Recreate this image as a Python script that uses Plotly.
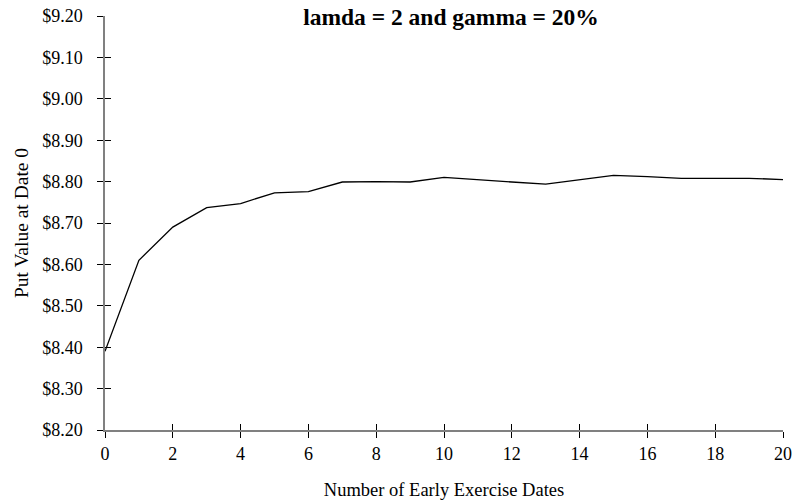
import plotly.graph_objects as go

exercise_dates = list(range(0, 21))
put_values = [8.39, 8.61, 8.69, 8.737, 8.747, 8.773, 8.776, 8.799, 8.800, 8.799,
              8.810, 8.804, 8.799, 8.794, 8.804, 8.815, 8.812, 8.808, 8.808, 8.808, 8.805]

y_tick_vals = [8.2, 8.3, 8.4, 8.5, 8.6, 8.7, 8.8, 8.9, 9.0, 9.1, 9.2]
y_tick_text = ["$8.20", "$8.30", "$8.40", "$8.50", "$8.60", "$8.70", "$8.80",
               "$8.90", "$9.00", "$9.10", "$9.20"]
x_tick_vals = list(range(0, 21, 2))

title_text = "<b>lamda = 2 and gamma = 20%</b>"
x_title = "Number of Early Exercise Dates"
y_title = "Put Value at Date 0"

FONT = "Liberation Serif, Times New Roman, serif"

W, H = 794, 501

fig = go.Figure()
fig.add_trace(go.Scatter(x=exercise_dates, y=put_values, mode="lines",
                         line=dict(color="black", width=1.3), showlegend=False,
                         cliponaxis=False))
fig.add_trace(go.Scatter(x=exercise_dates, y=put_values, mode="lines",
                         line=dict(color="rgba(0,0,0,0)", width=0), xaxis="x2", yaxis="y2",
                         showlegend=False, hoverinfo="skip"))

common_axis = dict(showgrid=False, zeroline=False, showline=True, linecolor="#808080",
                   linewidth=1.5, tickcolor="black", ticklen=6, tickwidth=1, automargin=False)

fig.update_layout(
    width=W, height=H,
    paper_bgcolor="white", plot_bgcolor="white",
    margin=dict(l=105, r=11, t=16, b=71),
    font=dict(family=FONT, size=18, color="black"),
    title=dict(text=title_text, x=451 / W, xref="container", y=1 - 17 / H,
               yref="container", xanchor="center", yanchor="middle",
               font=dict(family=FONT, size=23.5, color="black")),
    xaxis=dict(range=[0, 20], tickvals=x_tick_vals, ticks="outside", ticklabelstandoff=1,
               ticklabeloverflow="allow",
               title=dict(text=x_title, font=dict(size=18.5), standoff=20),
               tickfont=dict(size=18), **common_axis),
    yaxis=dict(range=[8.2, 9.2], tickvals=y_tick_vals, ticktext=y_tick_text,
               ticks="outside", ticklabelstandoff=11, ticklabeloverflow="allow",
               title=dict(text=y_title, font=dict(size=19.5), standoff=8),
               tickfont=dict(size=18), **common_axis),
    xaxis2=dict(range=[0, 20], tickvals=x_tick_vals, ticks="inside", overlaying="x",
                showticklabels=False, **common_axis),
    yaxis2=dict(range=[8.2, 9.2], tickvals=y_tick_vals, ticks="inside", overlaying="y",
                showticklabels=False, **common_axis),
)

fig.write_html("out.html", config={"displayModeBar": False},
               post_script="document.body.style.margin='0';document.body.style.overflow='hidden';")
